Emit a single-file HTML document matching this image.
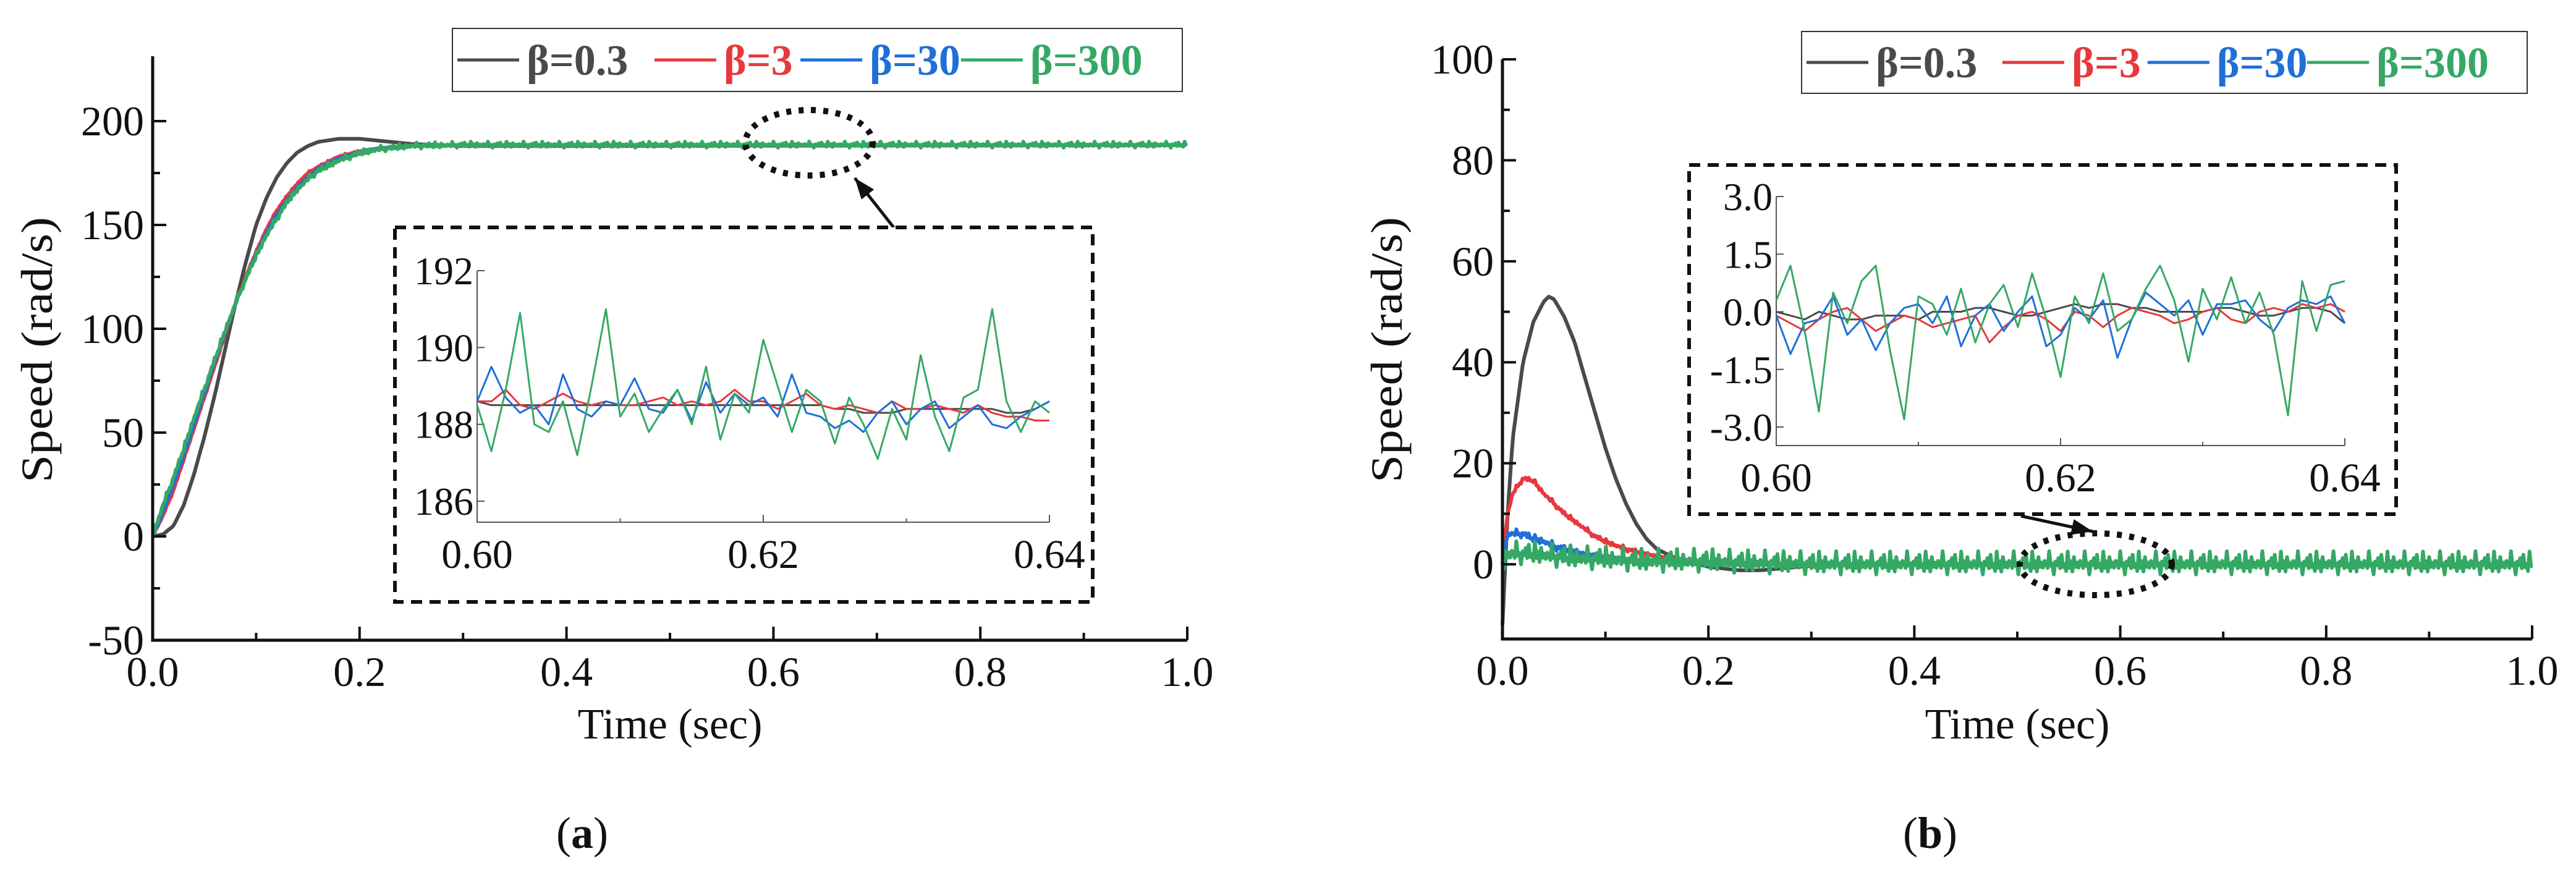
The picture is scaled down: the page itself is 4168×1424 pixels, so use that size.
<!DOCTYPE html>
<html><head><meta charset="utf-8"><style>
html,body{margin:0;padding:0;background:#fff}
svg{display:block}
text{font-family:"Liberation Serif",serif;fill:#111}
</style></head><body>
<svg id="fig" width="4168" height="1424" viewBox="0 0 4168 1424" xmlns="http://www.w3.org/2000/svg"></svg>
<script>
// ---------- data ----------
const seriesNames = ["β=0.3","β=3","β=30","β=300"];
const seriesColors = ["#4a4a4a","#e8383d","#1f6fd8","#35a865"];
const aTimes = [0,0.01,0.02,0.03,0.04,0.05,0.06,0.07,0.08,0.09,0.10,0.11,0.12,0.13,0.14,0.15,0.16,0.18,0.20,0.22,0.25,0.30,0.40,1.0];
const aBlack = [0,1,5,15,30,48,68,90,112,132,150,163,173,180,185,188,190,191.5,191.5,190.5,189,188,188,188.5];
const aRed   = [0,10,22,37,52,67,82,97,112,125,137,148,157,164,170,175,178,183,185.5,187,188,188.5,188.5,188.5];
const aBlue  = [0,12,25,39,54,69,84,98,112,124,136,146,155,162,168,173,177,182,185,187,188,188.5,188.5,188.5];
const aGreen = [0,15,28,42,57,71,85,99,112,124,135,145,153,161,167,172,176,181,184.5,186.5,188,188.5,188.5,188.5];
const noisePattern = [0.3,-0.8,0.9,-0.2,0.6,-1.0,0.4,0.1,-0.6,1.0,-0.4,0.2,-0.9,0.7,-0.1,0.5,-0.7,0.8,-0.3,0.0,-0.5,0.9,-0.8];
const insetTimes = [];
for (let i=0;i<=40;i++) insetTimes.push(0.60+i*0.001);
const aInGreen = [188.5,187.3,188.9,190.9,188.0,187.8,188.6,187.2,189.0,191.0,188.2,188.8,187.8,188.4,188.9,188.0,189.5,187.6,188.8,188.3,190.2,189.0,187.8,188.9,188.6,187.5,188.7,188.0,187.1,188.4,187.6,189.8,188.2,187.3,188.7,188.9,191.0,188.6,187.8,188.6,188.3];
const aInBlue  = [188.6,189.5,188.7,188.3,188.5,188.0,189.3,188.4,188.2,188.6,188.5,189.2,188.4,188.3,188.9,188.1,189.1,188.3,188.8,188.5,188.7,188.2,189.3,188.3,188.2,187.9,188.1,187.8,188.3,188.6,188.0,188.4,188.6,187.9,188.2,188.5,188.0,187.9,188.2,188.4,188.6];
const aInRed   = [188.6,188.6,188.9,188.5,188.4,188.6,188.8,188.6,188.5,188.6,188.5,188.5,188.6,188.7,188.5,188.6,188.5,188.6,188.9,188.6,188.6,188.4,188.6,188.8,188.5,188.4,188.5,188.4,188.3,188.6,188.4,188.4,188.5,188.4,188.3,188.5,188.3,188.2,188.2,188.1,188.1];
const aInBlack = [188.6,188.5,188.5,188.5,188.5,188.5,188.5,188.5,188.5,188.5,188.5,188.5,188.5,188.5,188.5,188.5,188.5,188.5,188.5,188.5,188.5,188.5,188.5,188.5,188.5,188.4,188.4,188.3,188.3,188.3,188.4,188.4,188.4,188.4,188.4,188.4,188.4,188.3,188.3,188.4,188.6];
const bTimes = [0,0.005,0.01,0.02,0.03,0.04,0.045,0.05,0.06,0.07,0.08,0.09,0.10,0.11,0.12,0.13,0.14,0.15,0.17,0.20,0.23,0.25,0.30,0.40,1.0];
const bBlack = [-12,10,25,40,48,52,53,52.5,49,44,37,30,23,17,12,8,5,3,1,-0.5,-1.2,-1.2,-0.3,0,0];
const bRed   = [0,10,14,17,16.5,14,13,12,10,8.5,7,5.5,4.5,3.7,3,2.5,2,1.6,1,0.5,0.2,0,0,0,0];
const bBlue  = [0,6,6,6,5,4.5,4,3.5,3,2.5,2,1.8,1.5,1.2,1,0.8,0.6,0.5,0.3,0,0,0,0,0,0];
const bGreen = [0,2,2,2,2,1.8,1.6,1.5,1.3,1.2,1,1,1,0.8,0.7,0.6,0.5,0.5,0.5,0.5,0.3,0.2,0,0,0];
const bInGreen = [0.3,1.2,-0.5,-2.6,0.5,-0.3,0.8,1.2,-1.0,-2.8,0.4,0.2,-0.6,0.6,-0.8,0.2,0.7,-0.4,1.0,-0.2,-1.7,0.4,-0.3,1.0,-0.5,-0.2,0.6,1.2,0.3,-1.3,0.6,-0.2,0.9,-0.3,0.5,-0.6,-2.7,0.8,-0.5,0.7,0.8];
const bInBlue  = [-0.1,-1.1,-0.3,-0.2,0.4,-0.6,-0.2,-1.0,-0.3,0.1,0.2,-0.3,0.4,-0.9,-0.1,0.2,-0.5,0.0,0.4,-0.9,-0.6,0.1,-0.2,0.3,-1.2,-0.2,0.5,0.2,-0.1,0.3,-0.6,0.2,0.2,0.3,-0.2,-0.5,0.1,0.3,0.2,0.4,-0.3];
const bInRed   = [-0.1,-0.3,-0.5,-0.2,0.0,0.1,-0.2,-0.5,-0.3,-0.1,-0.2,-0.4,-0.3,-0.2,-0.1,-0.8,-0.4,-0.1,0.0,-0.2,-0.5,0.0,-0.1,-0.4,-0.1,0.1,0.0,-0.1,-0.3,-0.2,0.0,0.1,-0.2,-0.3,0.0,0.1,0.0,0.2,0.1,0.2,0.0];
const bInBlack = [0,-0.1,-0.2,0,-0.1,-0.2,-0.2,-0.1,-0.1,-0.1,-0.2,0,0,0,0.1,0.1,0,-0.1,-0.1,0,0.1,0.2,0.1,0.2,0.2,0.1,0.1,0,0,0,0,0.1,0.1,0,-0.1,-0.1,0,0.1,0.1,0,-0.3];
const xTickLabels = ["0.0","0.2","0.4","0.6","0.8","1.0"];
const aYTicks = [-50,0,50,100,150,200];
const bYTicks = [0,20,40,60,80,100];
const aInYTicks = [186,188,190,192];
const bInYTicks = [-3.0,-1.5,0.0,1.5,3.0];
const inXTicks = ["0.60","0.62","0.64"];

// ---------- helpers ----------
const NS="http://www.w3.org/2000/svg";
const svg=document.getElementById('fig');
function el(tag,attrs,parent){const e=document.createElementNS(NS,tag);for(const k in attrs)e.setAttribute(k,attrs[k]);(parent||svg).appendChild(e);return e;}
function txt(s,attrs,parent){const t=el('text',attrs,parent);t.textContent=s;return t;}
function interp(ts,vs,t){if(t<=ts[0])return vs[0];for(let i=1;i<ts.length;i++){if(t<=ts[i]){const f=(t-ts[i-1])/(ts[i]-ts[i-1]);return vs[i-1]+f*(vs[i]-vs[i-1]);}}return vs[vs.length-1];}
function linear(d0,d1,r0,r1){return v=>r0+(v-d0)*(r1-r0)/(d1-d0);}

function mainPanel(o){
  const g=el('g',{});
  
  
  const X=linear(0,1,o.x0,o.x1), Y=linear(o.v0,o.v1,o.y0,o.y1);
  o.series.forEach((s,si)=>{
    let d='';const step=0.0015;
    for(let t=0,k=0;t<=1.0001;t+=step,k++){
      let v=interp(o.times,s,t);
      const amp=o.noise[si];
      if(amp) v+=amp*noisePattern[k%noisePattern.length]*(0.6+0.4*noisePattern[(k*7)%noisePattern.length]);
      d+=(k?'L':'M')+X(t).toFixed(1)+','+Y(v).toFixed(1);
    }
    const p=el('path',{d:d,fill:'none',stroke:seriesColors[si],'stroke-width':o.lw[si],'stroke-linejoin':'round'},g);
    
    
  });
  const ax=el('path',{d:`M${o.x0},${o.yTop}V${o.y0}H${o.x1}`,fill:'none',stroke:'#111','stroke-width':5},g);
  
  
  for(let i=0;i<=10;i++){const x=X(i/10);el('line',{x1:x,x2:x,y1:o.y0,y2:o.y0-(i%2?12:22),stroke:'#111','stroke-width':4},g);}
  xTickLabels.forEach((l,i)=>{const t=txt(l,{x:X(i*0.2),y:o.y0+74,'font-size':68,'text-anchor':'middle'},g);
    });
  o.yTicks.forEach((v,i)=>{const y=Y(v);el('line',{x1:o.x0,x2:o.x0+22,y1:y,y2:y,stroke:'#111','stroke-width':4},g);
    if(i<o.yTicks.length-1){const ym=Y(v+(o.yTicks[1]-o.yTicks[0])/2);el('line',{x1:o.x0,x2:o.x0+12,y1:ym,y2:ym,stroke:'#111','stroke-width':4},g);}
    const t=txt(String(v),{x:o.x0-14,y:y+23,'font-size':68,'text-anchor':'end'},g);
    });
  const xt=txt('Time (sec)',{x:(o.x0+o.x1)/2,y:1195,'font-size':70,'text-anchor':'middle'},g);
  
  const yt=txt('Speed (rad/s)',{x:0,y:0,'font-size':72,'text-anchor':'middle',textLength:430,lengthAdjust:'spacingAndGlyphs',transform:`translate(${o.ylx},566) rotate(-90)`},g);
  
  return g;
}
function inset(o){
  const g=el('g',{});
  
  
  el('rect',{x:o.bx,y:o.by,width:o.bw,height:o.bh,fill:'#fff',stroke:'#111','stroke-width':6,'stroke-dasharray':'18,12'},g);
  const X=linear(0.60,0.64,o.x0,o.x1), Y=linear(o.v0,o.v1,o.y0,o.y1);
  el('path',{d:`M${o.x0},${o.yTop}V${o.yb}H${o.x1}`,fill:'none',stroke:'#555','stroke-width':2},g);
  for(let i=0;i<=4;i++){const x=X(0.60+i*0.01);el('line',{x1:x,x2:x,y1:o.yb,y2:o.yb-(i%2?6:12),stroke:'#555','stroke-width':2},g);}
  inXTicks.forEach((l,i)=>{const t=txt(l,{x:X(0.60+i*0.02),y:o.yb+74,'font-size':66,'text-anchor':'middle'},g);
    });
  o.yTicks.forEach(v=>{const y=Y(v);el('line',{x1:o.x0,x2:o.x0+12,y1:y,y2:y,stroke:'#555','stroke-width':2},g);
    const t=txt(o.fmt(v),{x:o.x0-6,y:y+22,'font-size':64,'text-anchor':'end'},g);
    });
  o.series.forEach((s,si)=>{
    let d='';s.forEach((v,i)=>{d+=(i?'L':'M')+X(insetTimes[i]).toFixed(1)+','+Y(v).toFixed(1);});
    const p=el('path',{d:d,fill:'none',stroke:seriesColors[si],'stroke-width':3,'stroke-linejoin':'round'},g);
    
    
  });
}
function legend(x,y,w,h){
  const g=el('g',{});
  
  
  el('rect',{x:x,y:y,width:w,height:h,fill:'#fff',stroke:'#333','stroke-width':2},g);
  const offs=[0,0.27,0.47,0.69];
  seriesNames.forEach((n,i)=>{
    const lx=x+8+offs[i]*w;
    el('line',{x1:lx,x2:lx+100,y1:y+h/2,y2:y+h/2,stroke:seriesColors[i],'stroke-width':5},g);
    const t=txt(n,{x:lx+112,y:y+h/2+24,'font-size':70,'font-weight':'bold',style:'fill:'+seriesColors[i]},g);
    
  });
}
function ellipseArrow(cx,cy,rx,ry,ax1,ay1,ax2,ay2){
  const e=el('ellipse',{cx:cx,cy:cy,rx:rx,ry:ry,fill:'none',stroke:'#111','stroke-width':10,'stroke-dasharray':'8,12'});
  
  const a=el('line',{x1:ax1,y1:ay1,x2:ax2,y2:ay2,stroke:'#111','stroke-width':5});
  
  const ang=Math.atan2(ay2-ay1,ax2-ax1),L=34,W=13;
  const bx=ax2-L*Math.cos(ang),by=ay2-L*Math.sin(ang);
  el('polygon',{points:`${ax2},${ay2} ${bx-W*Math.sin(ang)},${by+W*Math.cos(ang)} ${bx+W*Math.sin(ang)},${by-W*Math.cos(ang)}`,fill:'#111'});
}

mainPanel({name:'panel-a',x0:247,x1:1921,y0:1036,y1:196,v0:-50,v1:200,yTop:91,ylx:84,
  times:aTimes,series:[aBlack,aRed,aBlue,aGreen],noise:[0,0.6,0.8,1.8],lw:[6,6,6,6],yTicks:aYTicks});
legend(732,46,1181,102);
ellipseArrow(1309,231,103,53,1446,368,1383,288);
inset({name:'inset-a',bx:639,by:368,bw:1129,bh:606,x0:772,x1:1698,y0:438,y1:811,v0:192,v1:186,yTop:438,yb:845,
  yTicks:aInYTicks,fmt:v=>String(v),series:[aInBlack,aInRed,aInBlue,aInGreen]});

mainPanel({name:'panel-b',x0:2431,x1:4097,y0:1034,y1:96,v0:-14.8,v1:100,yTop:96,ylx:2268,
  times:bTimes,series:[bBlack,bRed,bBlue,bGreen],noise:[0,0.6,1.0,2.8],lw:[6,6,6,6],yTicks:bYTicks});
legend(2915,51,1174,100);
ellipseArrow(3391,913,123,50,3270,835,3386,860);
inset({name:'inset-b',bx:2733,by:267,bw:1144,bh:565,x0:2874,x1:3794,y0:318,y1:691,v0:3.0,v1:-3.0,yTop:318,yb:721,
  yTicks:bInYTicks,fmt:v=>v.toFixed(1),series:[bInBlack,bInRed,bInBlue,bInGreen]});

const ca=txt('(a)',{x:942,y:1372,'font-size':72,'text-anchor':'middle'});

ca.innerHTML='(<tspan font-weight="bold">a</tspan>)';
const cb=txt('(b)',{x:3123,y:1372,'font-size':72,'text-anchor':'middle'});

cb.innerHTML='(<tspan font-weight="bold">b</tspan>)';
</script>
</body></html>
